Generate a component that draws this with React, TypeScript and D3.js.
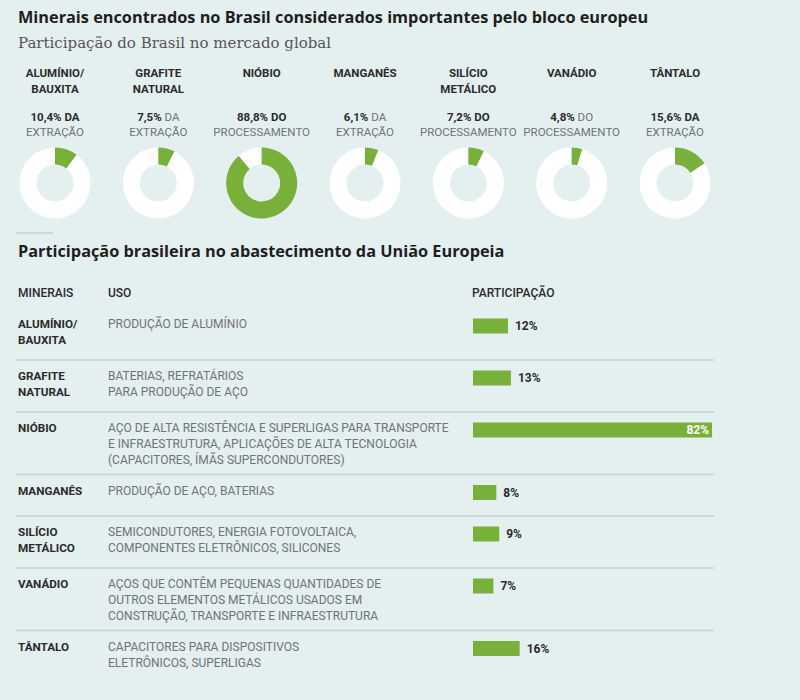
import React from "react";
import * as d3 from "d3";

// Minerals found in Brazil that the European bloc considers important
const mineralNames: string[][] = [
  ["ALUMÍNIO/", "BAUXITA"],
  ["GRAFITE", "NATURAL"],
  ["NIÓBIO"],
  ["MANGANÊS"],
  ["SILÍCIO", "METÁLICO"],
  ["VANÁDIO"],
  ["TÂNTALO"],
];

// Brazil's share of the global market (%)
const globalShare: number[] = [10.4, 7.5, 88.8, 6.1, 7.2, 4.8, 15.6];
const globalShareLabel: string[] = ["10,4%", "7,5%", "88,8%", "6,1%", "7,2%", "4,8%", "15,6%"];
const shareArticle: string[] = ["DA", "DA", "DO", "DA", "DO", "DO", "DA"];
const shareStage: string[] = [
  "EXTRAÇÃO",
  "EXTRAÇÃO",
  "PROCESSAMENTO",
  "EXTRAÇÃO",
  "PROCESSAMENTO",
  "PROCESSAMENTO",
  "EXTRAÇÃO",
];
// Whether the article after the percentage is set in bold
const articleBold: boolean[] = [true, false, true, false, true, false, true];

// Brazilian share of EU supply
const tableNames: string[][] = [
  ["ALUMÍNIO/", "BAUXITA"],
  ["GRAFITE", "NATURAL"],
  ["NIÓBIO"],
  ["MANGANÊS"],
  ["SILÍCIO", "METÁLICO"],
  ["VANÁDIO"],
  ["TÂNTALO"],
];
const uses: string[][] = [
  ["PRODUÇÃO DE ALUMÍNIO"],
  ["BATERIAS, REFRATÁRIOS", "PARA PRODUÇÃO DE AÇO"],
  [
    "AÇO DE ALTA RESISTÊNCIA E SUPERLIGAS PARA TRANSPORTE",
    "E INFRAESTRUTURA, APLICAÇÕES DE ALTA TECNOLOGIA",
    "(CAPACITORES, ÍMÃS SUPERCONDUTORES)",
  ],
  ["PRODUÇÃO DE AÇO, BATERIAS"],
  ["SEMICONDUTORES, ENERGIA FOTOVOLTAICA,", "COMPONENTES ELETRÔNICOS, SILICONES"],
  [
    "AÇOS QUE CONTÊM PEQUENAS QUANTIDADES DE",
    "OUTROS ELEMENTOS METÁLICOS USADOS EM",
    "CONSTRUÇÃO, TRANSPORTE E INFRAESTRUTURA",
  ],
  ["CAPACITORES PARA DISPOSITIVOS", "ELETRÔNICOS, SUPERLIGAS"],
];
const euShare: number[] = [12, 13, 82, 8, 9, 7, 16];

const headers: string[] = ["MINERAIS", "USO", "PARTICIPAÇÃO"];

const BG = "#e4eff0";
const GREEN = "#78b03a";
const DARK = "#2b2b2b";
const GREY = "#6f7475";
const RULE = "#c9d1d2";
const SANS = "Roboto, 'Noto Sans', sans-serif";
const TITLE_FONT = "'Open Sans', 'Noto Sans', sans-serif";
const SERIF = "'DejaVu Serif', 'Liberation Serif', serif";

export default function App() {
  const width = 800;
  const height = 700;

  // Donut row
  const colX = d3
    .scalePoint<number>()
    .domain(d3.range(mineralNames.length))
    .range([55, 675]);
  const donutY = 183;
  const arc = d3.arc<any>().innerRadius(18.5).outerRadius(35.5);
  const pie = d3
    .pie<number>()
    .sort(null)
    .value((d) => d);

  // Table rows: height grows with the number of text lines
  const lineH = 16;
  const rowLines = uses.map((u, i) => Math.max(u.length, tableNames[i].length));
  const rowTops: number[] = [];
  let y = 308;
  rowLines.forEach((n) => {
    rowTops.push(y);
    y += 31 + 10.5 * n;
  });

  const barX0 = 473;
  const x = d3.scaleLinear().domain([0, 100]).range([0, 291.5]);
  const barH = 15;

  return (
    <svg
      width={width}
      height={height}
      style={{ position: "absolute", left: 0, top: 0, background: BG }}
    >
      <rect width={width} height={height} fill={BG} />

      <text x={18} y={23} fontFamily={TITLE_FONT} fontWeight={700} fontSize={16.3} fill="#1e1e1e">
        Minerais encontrados no Brasil considerados importantes pelo bloco europeu
      </text>
      <text x={18} y={48} fontFamily={SERIF} fontSize={15} fill="#555">
        Participação do Brasil no mercado global
      </text>

      {mineralNames.map((lines, i) => {
        const cx = colX(i)!;
        const arcs = pie([globalShare[i], 100 - globalShare[i]]);
        return (
          <g key={i}>
            {lines.map((l, j) => (
              <text
                key={j}
                x={cx}
                y={77 + j * 15.5}
                textAnchor="middle"
                fontFamily={SANS}
                fontWeight={700}
                fontSize={11.5}
                fill={DARK}
              >
                {l}
              </text>
            ))}
            <text x={cx} y={121} textAnchor="middle" fontFamily={SANS} fontSize={11.5}>
              <tspan fontWeight={700} fill={DARK}>
                {globalShareLabel[i]}
              </tspan>
              <tspan
                fontWeight={articleBold[i] ? 700 : 400}
                fill={articleBold[i] ? DARK : GREY}
              >
                {" " + shareArticle[i]}
              </tspan>
            </text>
            <text
              x={cx}
              y={136}
              textAnchor="middle"
              fontFamily={SANS}
              fontSize={11.5}
              fill={GREY}
            >
              {shareStage[i]}
            </text>
            <g transform={`translate(${cx},${donutY})`}>
              <path d={arc(arcs[1]) || ""} fill="#ffffff" />
              <path d={arc(arcs[0]) || ""} fill={GREEN} />
            </g>
          </g>
        );
      })}

      <line x1={16} x2={53} y1={233} y2={233} stroke={RULE} strokeWidth={1.5} />

      <text x={18} y={257} fontFamily={TITLE_FONT} fontWeight={700} fontSize={16.3} fill="#1e1e1e">
        Participação brasileira no abastecimento da União Europeia
      </text>

      {headers.map((h, i) => (
        <text
          key={h}
          x={[18, 108, 472][i]}
          y={297}
          fontFamily={SANS}
          fontWeight={500}
          fontSize={12}
          fill={DARK}
        >
          {h}
        </text>
      ))}

      {tableNames.map((names, i) => {
        const top = rowTops[i];
        const w = x(euShare[i]);
        const barCy = top + 18;
        const inside = euShare[i] > 50;
        return (
          <g key={i}>
            {i > 0 && (
              <line x1={16} x2={714} y1={top} y2={top} stroke={RULE} strokeWidth={1.5} />
            )}
            {names.map((l, j) => (
              <text
                key={j}
                x={18}
                y={top + 20 + j * lineH}
                fontFamily={SANS}
                fontWeight={700}
                fontSize={11.7}
                fill={DARK}
              >
                {l}
              </text>
            ))}
            {uses[i].map((l, j) => (
              <text
                key={j}
                x={108}
                y={top + 20 + j * lineH}
                fontFamily={SANS}
                fontSize={12}
                fill={GREY}
              >
                {l}
              </text>
            ))}
            <rect x={barX0} y={barCy - barH / 2} width={w} height={barH} fill={GREEN} />
            <text
              x={inside ? barX0 + w - 3 : barX0 + w + 7}
              y={barCy + 4}
              textAnchor={inside ? "end" : "start"}
              fontFamily={SANS}
              fontWeight={700}
              fontSize={12}
              fill={inside ? "#ffffff" : DARK}
            >
              {euShare[i] + "%"}
            </text>
          </g>
        );
      })}
    </svg>
  );
}
